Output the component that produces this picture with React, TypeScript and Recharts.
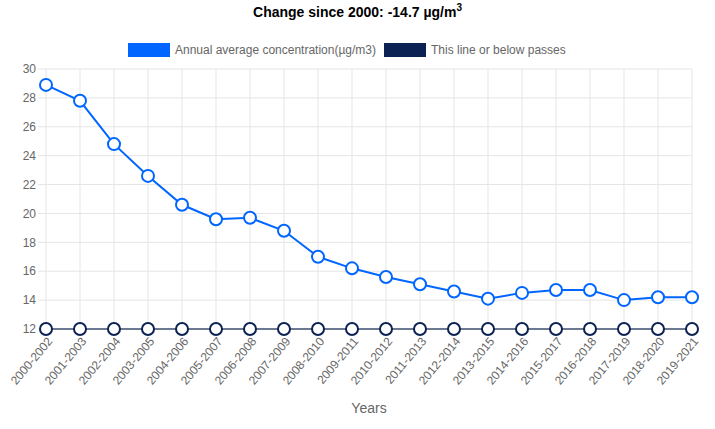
import React from 'react';
import { LineChart, Line, XAxis, YAxis, CartesianGrid, Legend } from 'recharts';

const categories = [
  '2000-2002', '2001-2003', '2002-2004', '2003-2005', '2004-2006', '2005-2007', '2006-2008',
  '2007-2009', '2008-2010', '2009-2011', '2010-2012', '2011-2013', '2012-2014', '2013-2015',
  '2014-2016', '2015-2017', '2016-2018', '2017-2019', '2018-2020', '2019-2021',
];
const annualAverage = [
  28.9, 27.8, 24.8, 22.6, 20.6, 19.6, 19.7, 18.8, 17.0, 16.2,
  15.6, 15.1, 14.6, 14.1, 14.5, 14.7, 14.7, 14.0, 14.2, 14.2,
];
const threshold = [
  12, 12, 12, 12, 12, 12, 12, 12, 12, 12,
  12, 12, 12, 12, 12, 12, 12, 12, 12, 12,
];
const yTicks = [12, 14, 16, 18, 20, 22, 24, 26, 28, 30];

const data = categories.map((c, i) => ({ year: c, avg: annualAverage[i], limit: threshold[i] }));

const FONT = '"Liberation Sans", Arial, Helvetica, sans-serif';
const BLUE = '#0066ff';
const NAVY = '#0b2252';

const XTick = (props: any) => {
  const { x, y, payload } = props;
  return (
    <g transform={`translate(${x + 4},${y + 2})`}>
      <text x={0} y={0} dy={4} textAnchor="end" transform="rotate(-50)" fill="#666" fontSize={12} fontFamily={FONT}>
        {payload.value}
      </text>
    </g>
  );
};

const LegendContent = (props: any) => {
  const { payload } = props;
  return (
    <div style={{ display: 'flex', alignItems: 'center', paddingLeft: 128, height: 16, fontFamily: FONT, fontSize: 12, color: '#666' }}>
      {(payload || []).map((p: any, i: number) => (
        <div key={i} style={{ display: 'flex', alignItems: 'center', marginRight: 8 }}>
          <span style={{ display: 'inline-block', width: 42, height: 14, background: p.color, marginRight: 5 }} />
          <span>{p.value}</span>
        </div>
      ))}
    </div>
  );
};

export default function App() {
  return (
    <div style={{ position: 'absolute', left: 0, top: 0, width: 715, height: 429, background: '#fff', fontFamily: FONT }}>
      <div style={{ position: 'absolute', left: 0, top: 2, width: 715, textAlign: 'center', fontWeight: 'bold', fontSize: 14, color: '#000', fontFamily: FONT }}>
        Change since 2000: -14.7 µg/m<sup style={{ fontSize: 10 }}>3</sup>
      </div>
      <LineChart width={715} height={429} data={data} margin={{ top: 53, right: 23, bottom: 0, left: 0 }}>
        <CartesianGrid stroke="#e5e5e5" strokeWidth={1} />
        <XAxis
          dataKey="year"
          scale="point"
          padding={{ left: 0, right: 0 }}
          interval={0}
          height={100}
          tickLine={false}
          axisLine={{ stroke: '#d0d0d0' }}
          tick={<XTick />}
          label={{ value: 'Years', position: 'insideBottom', offset: 16, fill: '#666', fontSize: 14, fontFamily: FONT }}
        />
        <YAxis
          domain={[12, 30]}
          ticks={yTicks}
          width={46}
          tickSize={8}
          tickMargin={2}
          tickLine={{ stroke: '#e5e5e5' }}
          axisLine={false}
          tick={{ fill: '#666', fontSize: 12, fontFamily: FONT }}
        />
        <Legend
          verticalAlign="top"
          align="left"
          wrapperStyle={{ top: 42, left: 0, width: 715 }}
          content={<LegendContent />}
        />
        <Line
          name="Annual average concentration(µg/m3)"
          dataKey="avg"
          stroke={BLUE}
          strokeWidth={2}
          dot={{ r: 6, fill: '#fff', stroke: BLUE, strokeWidth: 2 }}
          activeDot={false}
          type="linear"
          isAnimationActive={false}
        />
        <Line
          name="This line or below passes"
          dataKey="limit"
          stroke={NAVY}
          strokeWidth={2}
          dot={{ r: 6, fill: '#fff', stroke: NAVY, strokeWidth: 2 }}
          activeDot={false}
          type="linear"
          isAnimationActive={false}
        />
      </LineChart>
    </div>
  );
}
